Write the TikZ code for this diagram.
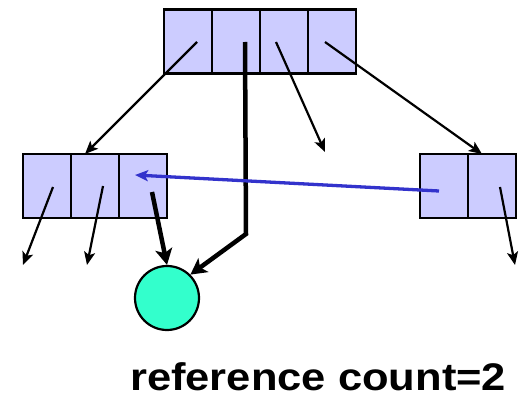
\documentclass[tikz,border=0pt]{standalone}
\usepackage{fontspec}
\setmainfont{Liberation Sans}
\usetikzlibrary{arrows.meta,calc}
\definecolor{cellfill}{RGB}{204,204,255}
\definecolor{objfill}{RGB}{51,255,204}
\definecolor{ptrblue}{RGB}{51,51,204}
\tikzset{
  cell/.style={draw, line width=2.2pt, fill=cellfill, minimum width=48pt,
    minimum height=64pt, inner sep=0pt, outer sep=0pt},
  ptr/.style={line width=2.2pt, -{Stealth[length=13pt,width=11pt,inset=3pt]}},
  bigptr/.style={line width=4.5pt, -{Stealth[length=16pt,width=17pt,inset=4pt]}},
  blueptr/.style={ptrblue, line width=3.3pt, -{Stealth[length=13pt,width=11pt,inset=3pt]}},
}
\begin{document}
\begin{tikzpicture}[x=1pt,y=-1pt]
\useasboundingbox (0,0) rectangle (523,393);

% four-slot record at the top
\node[cell] (t1) at (188,41.5) {};
\node[cell] (t2) at (236,41.5) {};
\node[cell] (t3) at (284,41.5) {};
\node[cell] (t4) at (332,41.5) {};

% three-slot record on the left
\node[cell] (l1) at (47,186) {};
\node[cell] (l2) at (95,186) {};
\node[cell] (l3) at (143,186) {};

% two-slot record on the right
\node[cell] (r1) at (444,186) {};
\node[cell] (r2) at (492,186) {};

% the shared object
\node[circle, draw, line width=2.2pt, fill=objfill, minimum size=64pt,
  inner sep=0pt] (obj) at (167,298) {};

% pointer origins inside the slots
\coordinate (s1) at (197,42);
\coordinate (s2) at (245,42);
\coordinate (s3) at (276,42);
\coordinate (s4) at (325,42);
\coordinate (sl1) at (53,187);
\coordinate (sl2) at (103,186);
\coordinate (sl3) at (152,192);
\coordinate (sr1) at (439,191);
\coordinate (sr2) at (500,187);

% dangling pointer ends
\coordinate (e3) at (325,152);
\coordinate (el1) at (23,265);
\coordinate (el2) at (87,265);
\coordinate (er2) at (515,265);
\coordinate (bend) at (246,234);

% pointers from the top record
\draw[ptr] (s1) -- ($(l2.north)+(-10,0)$);
\draw[ptr] (s3) -- (e3);
\draw[ptr] (s4) -- ($(r2.north)+(-10,0)$);
\draw[bigptr, line join=miter] (s2) -- (bend) -- (obj.45);

% pointers from the left record
\draw[ptr] (sl1) -- (el1);
\draw[ptr] (sl2) -- (el2);
\draw[bigptr] (sl3) -- (obj.north);

% pointers from the right record
\draw[ptr] (sr2) -- (er2);
\draw[blueptr] (sr1) -- ($(l3.center)+(-8,-11)$);

% caption
\node[anchor=base west, inner sep=0pt] (cap) at (130,390)
  {\scalebox{1.13}[1]{\fontsize{38.5}{40}\selectfont\bfseries reference count=2}};
\end{tikzpicture}
\end{document}
